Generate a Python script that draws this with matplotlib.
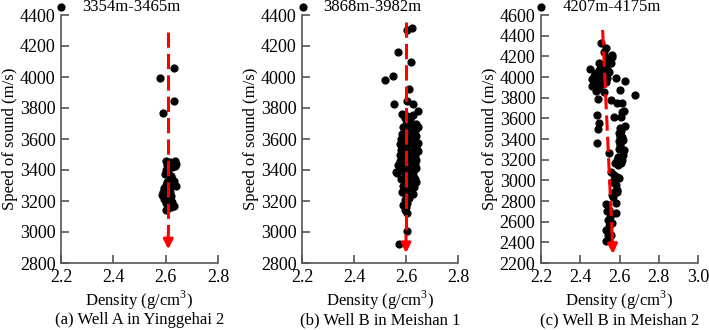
import matplotlib
matplotlib.use("Agg")
import matplotlib.pyplot as plt
import numpy as np

plt.rcParams["font.family"] = ["Liberation Serif", "DejaVu Serif"]
plt.rcParams["mathtext.fontset"] = "custom"
plt.rcParams["mathtext.rm"] = "Liberation Serif"

# (a) Well A in Yinggehai 2, 3354m-3465m
a_dens = [2.578, 2.632, 2.630, 2.590,
          2.600, 2.615, 2.635, 2.640, 2.605, 2.625, 2.635, 2.600, 2.610, 2.598,
          2.620, 2.625, 2.612, 2.630, 2.605, 2.600, 2.640, 2.620, 2.595, 2.610,
          2.590, 2.615, 2.600, 2.585, 2.620, 2.605, 2.595, 2.610, 2.625, 2.600,
          2.615, 2.630, 2.620, 2.605, 2.600]
a_vel = [3995, 4055, 3848, 3770,
         3455, 3450, 3455, 3440, 3430, 3420, 3425, 3400, 3380, 3375,
         3360, 3345, 3335, 3330, 3320, 3305, 3300, 3295, 3285, 3275,
         3260, 3255, 3245, 3240, 3235, 3225, 3215, 3205, 3195, 3185,
         3175, 3165, 3160, 3150, 3140]
a_arrow_x = [2.610, 2.610]
a_arrow_y = [4292, 2888]

# (b) Well B in Meishan 1, 3868m-3982m
b_dens = [2.622, 2.605, 2.568, 2.620, 2.550, 2.520, 2.610, 2.603, 2.555, 2.625,
          2.645, 2.605, 2.573,
          2.585, 2.605, 2.625, 2.595, 2.615, 2.640, 2.600, 2.630, 2.645, 2.590,
          2.610, 2.620, 2.635, 2.600, 2.585, 2.615, 2.640, 2.625, 2.605, 2.580,
          2.595, 2.630, 2.645, 2.610, 2.575, 2.620, 2.590, 2.640, 2.600, 2.630,
          2.580, 2.615, 2.645, 2.595, 2.625, 2.575, 2.610, 2.635, 2.600, 2.585,
          2.620, 2.640, 2.605, 2.575, 2.625, 2.595, 2.635, 2.570, 2.610, 2.585,
          2.620, 2.600, 2.640, 2.575, 2.630, 2.560, 2.590, 2.615, 2.565, 2.605,
          2.625, 2.595, 2.635, 2.580, 2.610, 2.640, 2.600, 2.620, 2.590, 2.630,
          2.605, 2.615, 2.585, 2.625, 2.600, 2.610, 2.595, 2.605, 2.590, 2.600,
          2.595, 2.605]
b_vel = [4315, 4305, 4160, 4095, 4005, 3980, 3920, 3845, 3825, 3825,
         3780, 3005, 2920,
         3760, 3750, 3755, 3735, 3720, 3700, 3700, 3690, 3675, 3675,
         3670, 3655, 3650, 3640, 3630, 3625, 3620, 3610, 3605, 3600,
         3590, 3585, 3575, 3570, 3565, 3560, 3555, 3550, 3545, 3535,
         3530, 3525, 3520, 3510, 3505, 3500, 3495, 3490, 3480, 3475,
         3470, 3465, 3460, 3455, 3450, 3445, 3440, 3435, 3430, 3425,
         3420, 3415, 3410, 3405, 3400, 3390, 3395, 3385, 3380, 3375,
         3365, 3355, 3345, 3340, 3335, 3325, 3315, 3305, 3295, 3290,
         3280, 3265, 3255, 3245, 3235, 3220, 3205, 3190, 3175, 3160,
         3145, 3120]
b_arrow_x = [2.600, 2.600]
b_arrow_y = [4357, 2864]

# (c) Well B in Meishan 2, 4207m-4175m
c_dens = [2.505, 2.530, 2.522, 2.564, 2.547, 2.497, 2.555, 2.452, 2.497, 2.530,
          2.480, 2.514, 2.460, 2.493, 2.530, 2.581, 2.628, 2.460, 2.493, 2.520,
          2.601, 2.681, 2.489, 2.555, 2.589, 2.612, 2.624, 2.485, 2.572, 2.608,
          2.505, 2.540, 2.470, 2.485, 2.510, 2.545, 2.475, 2.500, 2.520, 2.505,
          2.550, 2.540, 2.478, 2.512, 2.535, 2.560, 2.470, 2.500,
          2.612, 2.495, 2.491, 2.628, 2.610, 2.603, 2.599, 2.620, 2.485, 2.547,
          2.599, 2.620, 2.589, 2.610, 2.576, 2.600, 2.615, 2.595, 2.590, 2.605,
          2.625, 2.600, 2.615, 2.590, 2.605,
          2.555, 2.572, 2.599, 2.564, 2.580, 2.589, 2.572, 2.560, 2.585, 2.570,
          2.589, 2.530, 2.582, 2.565, 2.547, 2.582, 2.539, 2.564, 2.530, 2.539,
          2.555, 2.539, 2.530, 2.550, 2.545, 2.535, 2.548]
c_vel = [4330, 4285, 4240, 4215, 4165, 4132, 4132, 4074, 4068, 4084,
         4036, 4020, 3981, 3970, 3955, 3993, 3965, 3913, 3890, 3858,
         3874, 3826, 3787, 3777, 3751, 3750, 3674, 3632, 3616, 3615,
         4100, 4180, 4010, 3950, 3990, 4050, 3920, 4000, 4115, 3930,
         4140, 4060, 3860, 4040, 3990, 4190, 3990, 3940,
         3665, 3552, 3494, 3526, 3481, 3439, 3384, 3390, 3364, 3268,
         3300, 3245, 3197, 3171, 3171, 3340, 3420, 3460, 3230, 3360,
         3290, 3510, 3200, 3150, 3420,
         3084, 3052, 3019, 2987, 2955, 2906, 2890, 2858, 3030, 2990,
         2890, 2771, 2778, 2842, 2713, 2681, 2616, 2584, 2519, 2471,
         2474, 2423, 2416, 2650, 2560, 2700, 2440]
c_arrow_x = [2.514, 2.567]
c_arrow_y = [4455, 2287]

panels = [
    dict(x=a_dens, y=a_vel, ax_=a_arrow_x, ay_=a_arrow_y, label="3354m-3465m",
         cap="(a) Well A in Yinggehai 2", xlim=(2.2, 2.8), ylim=(2800, 4400),
         xt=[2.2, 2.4, 2.6, 2.8], yt=np.arange(2800, 4401, 200),
         pos=[61, 218]),
    dict(x=b_dens, y=b_vel, ax_=b_arrow_x, ay_=b_arrow_y, label="3868m-3982m",
         cap="(b) Well B in Meishan 1", xlim=(2.2, 2.8), ylim=(2800, 4400),
         xt=[2.2, 2.4, 2.6, 2.8], yt=np.arange(2800, 4401, 200),
         pos=[302, 458]),
    dict(x=c_dens, y=c_vel, ax_=c_arrow_x, ay_=c_arrow_y, label="4207m-4175m",
         cap="(c) Well B in Meishan 2", xlim=(2.2, 3.0), ylim=(2200, 4600),
         xt=[2.2, 2.4, 2.6, 2.8, 3.0], yt=np.arange(2200, 4601, 200),
         pos=[541, 698]),
]

W, H = 709, 330
fig = plt.figure(figsize=(W / 100, H / 100), dpi=100)
top, bottom = 15, 263
fs = 12

for p in panels:
    l, r = p["pos"]
    ax = fig.add_axes([l / W, 1 - bottom / H, (r - l) / W, (bottom - top) / H])
    ax.scatter(p["x"], p["y"], s=24, color="black", zorder=3, label=p["label"],
               clip_on=False)
    # dashed trend arrow
    x0, x1 = p["ax_"]
    y0, y1 = p["ay_"]
    f = 0.075
    hx, hy = x1 + (x0 - x1) * f, y1 + (y0 - y1) * f
    ax.plot([x0, hx], [y0, hy], color="red", lw=2.2, dashes=(5, 2), zorder=4)
    ax.annotate("", xy=(x1, y1), xytext=(hx, hy),
                arrowprops=dict(arrowstyle="-|>", color="red", lw=2.2,
                                mutation_scale=14, shrinkA=0, shrinkB=0),
                zorder=5)
    ax.set_xlim(p["xlim"])
    ax.set_ylim(p["ylim"])
    ax.set_xticks(p["xt"])
    ax.set_xticklabels([f"{v:.1f}" for v in p["xt"]])
    ax.set_yticks(p["yt"])
    for s in ["top", "right"]:
        ax.spines[s].set_visible(False)
    for s in ["left", "bottom"]:
        ax.spines[s].set_color("#555555")
        ax.spines[s].set_linewidth(1.2)
    ax.tick_params(direction="in", length=6, width=1.2, color="#555555",
                   labelsize=13, pad=4)
    ax.set_ylabel("Speed of sound (m/s)", fontsize=fs, labelpad=1)
    ax.legend(loc="center left", bbox_to_anchor=(-0.05, 1.032), frameon=False,
              fontsize=fs, scatterpoints=1, handlelength=1.0, handletextpad=0.75,
              borderpad=0, borderaxespad=0)
    cx = (l + r) / 2 / W
    fig.text(cx, 1 - 300 / H, "Density (g/cm$^3$)", ha="center", va="center",
             fontsize=fs)
    fig.text(cx, 1 - 320 / H, p["cap"], ha="center", va="center", fontsize=fs)

fig.savefig("out.png", dpi=100)
